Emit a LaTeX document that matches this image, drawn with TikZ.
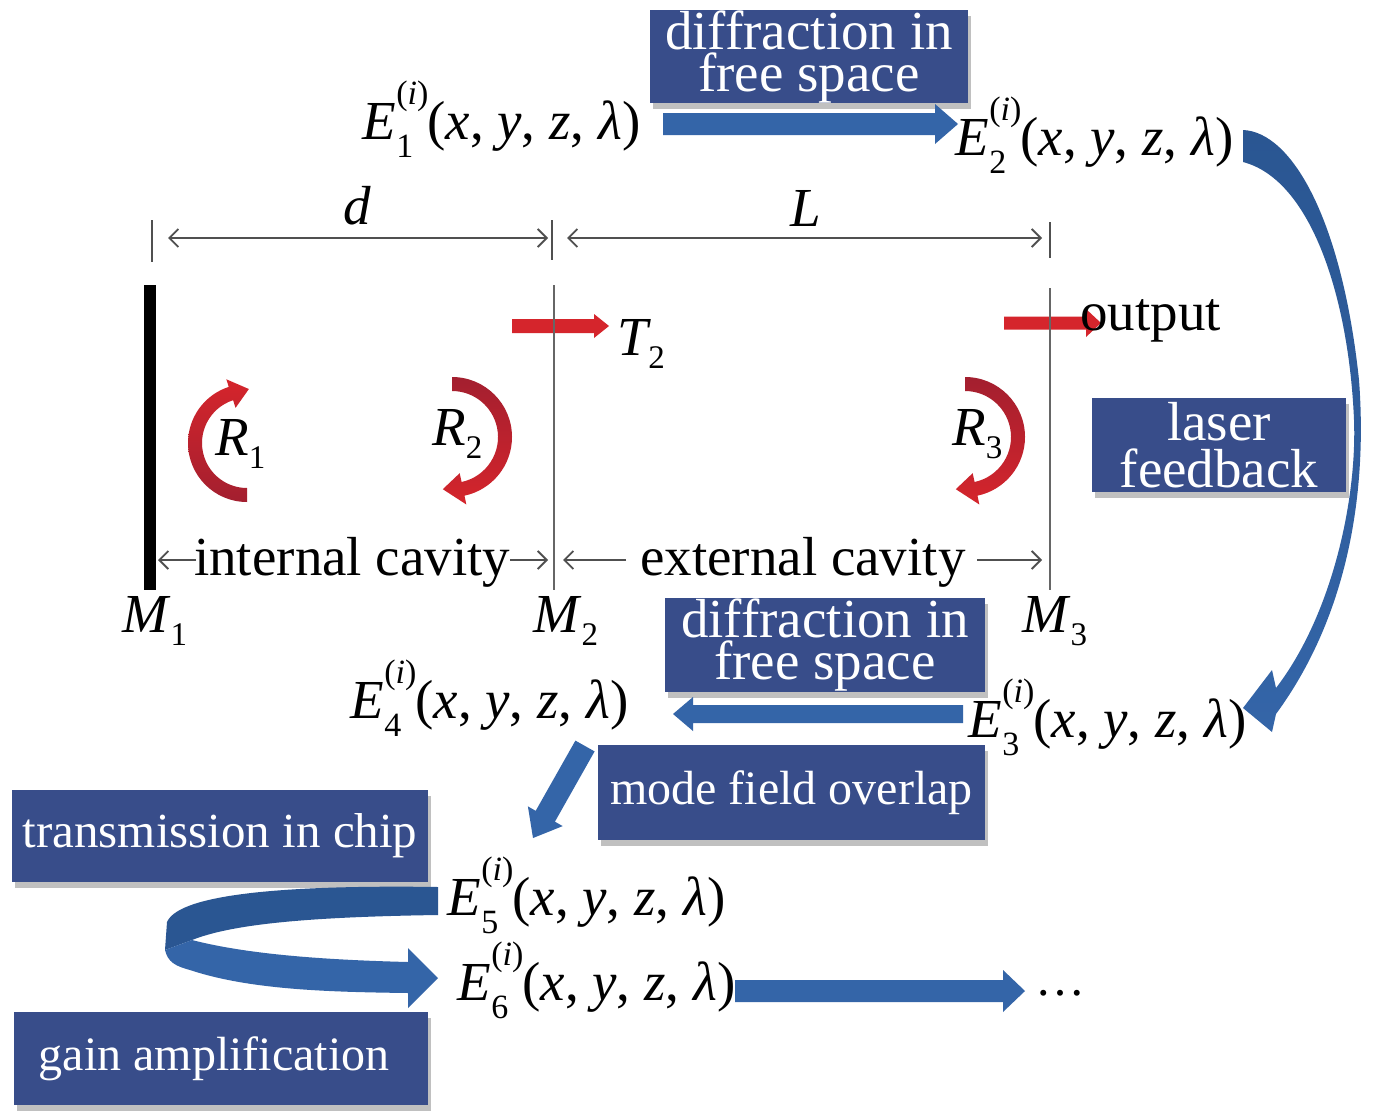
\documentclass[tikz,border=0pt]{standalone}
\usepackage{fontspec}
\setmainfont{Liberation Serif}
\usetikzlibrary{arrows.meta,shadows,calc}
\definecolor{boxblue}{HTML}{384D8A}
\definecolor{arrblue}{HTML}{3465A8}
\definecolor{arrdark}{HTML}{2A5692}
\definecolor{redA}{HTML}{D5252C}
\definecolor{redD}{HTML}{A31F2F}
\definecolor{dimgray}{HTML}{505050}
\newcommand{\Ef}[1]{\textit{E}\kern0.01em\rlap{\raisebox{-0.34em}{\fontsize{34}{34}\selectfont #1}}\raisebox{0.62em}{\fontsize{34}{34}\selectfont(\textit{i})}\kern-0.02em(\textit{x}, \textit{y}, \textit{z}, \textit{λ})}
\newcommand{\Sb}[3][0em]{\textit{#2}\kern#1\raisebox{-0.25em}{\fontsize{33}{33}\selectfont #3}}
\tikzset{
  bluebox/.style={fill=boxblue, text=white, inner sep=0pt, align=center,
    drop shadow={shadow xshift=3pt, shadow yshift=-6pt, opacity=0.35, fill=black!70}},
  eqn/.style={anchor=base west, inner sep=0pt, font=\fontsize{55}{55}\selectfont},
  lbl/.style={anchor=base west, inner sep=0pt, font=\fontsize{55}{55}\selectfont},
  dimarrow/.style={draw=dimgray, line width=1.8pt, arrows={-Straight Barb[length=9pt,width=18pt]}},
  tickline/.style={draw=dimgray, line width=2pt},
  mirrorline/.style={draw=black!60, line width=2.6pt},
}
\begin{document}
\begin{tikzpicture}[x=1pt,y=-1pt]
\useasboundingbox (0,0) rectangle (1378,1116);
\fill[white] (0,0) rectangle (1378,1116);

% ---------- red transmission arrows ----------
\fill[redA] (512,319) -- (594,319) -- (594,314) -- (609,326) -- (594,338) -- (594,333) -- (512,333) -- cycle;
\fill[redA] (1004,316.5) -- (1086,316.5) -- (1086,309) -- (1101,323) -- (1086,337) -- (1086,329.5) -- (1004,329.5) -- cycle;

% ---------- mirrors ----------
\fill[black] (144,285) rectangle (156,590);
\coordinate (m2a) at (554,285); \coordinate (m2b) at (554,590);
\coordinate (m3a) at (1050,288); \coordinate (m3b) at (1050,590);
\draw[mirrorline] (m2a) -- (m2b);
\draw[mirrorline] (m3a) -- (m3b);

% ---------- dimension ticks and arrows ----------
\coordinate (t1a) at (152,220); \coordinate (t1b) at (152,262);
\coordinate (t2a) at (552,220); \coordinate (t2b) at (552,260);
\coordinate (t3a) at (1050,222); \coordinate (t3b) at (1050,258);
\draw[tickline] (t1a) -- (t1b);
\draw[tickline] (t2a) -- (t2b);
\draw[tickline] (t3a) -- (t3b);
\coordinate (d1) at (168,238); \coordinate (d2) at (548,238);
\coordinate (l1) at (567,238); \coordinate (l2) at (1042,238);
\draw[dimarrow, arrows={Straight Barb[length=9pt,width=18pt]-Straight Barb[length=9pt,width=18pt]}] (d1) -- (d2);
\draw[dimarrow, arrows={Straight Barb[length=9pt,width=18pt]-Straight Barb[length=9pt,width=18pt]}] (l1) -- (l2);
\node[anchor=base, inner sep=0pt, font=\fontsize{55}{55}\selectfont] (dlab) at (357,224) {\textit{d}};
\node[anchor=base, inner sep=0pt, font=\fontsize{55}{55}\selectfont] (Llab) at (806,226) {\textit{L}};

% ---------- cavity labels ----------
\coordinate (ic1) at (196,560); \coordinate (ic0) at (158,560);
\coordinate (ic2) at (510,560); \coordinate (ic3) at (548,560);
\coordinate (ec1) at (626,560); \coordinate (ec0) at (563,560);
\coordinate (ec2) at (977,560); \coordinate (ec3) at (1042,560);
\draw[dimarrow] (ic1) -- (ic0);
\draw[dimarrow] (ic2) -- (ic3);
\draw[dimarrow] (ec1) -- (ec0);
\draw[dimarrow] (ec2) -- (ec3);
\node[lbl] (intc) at (194,575) {internal cavity};
\node[lbl] (extc) at (640,575) {external cavity};

% ---------- mirror labels ----------
\node[lbl] (M1) at (122,632) {\Sb{M}{1}};
\node[lbl] (M2) at (533,632) {\Sb{M}{2}};
\node[lbl] (M3) at (1022,632) {\Sb{M}{3}};
\node[lbl] (T2) at (617,355) {\Sb[-0.05em]{T}{2}};
\node[lbl] (out) at (1080,330) {output};

% ---------- reflection arrows ----------
\coordinate (C1) at (247,443);
\shade[top color=redA, bottom color=redD]
  ($(C1)+(90:59)$) arc[start angle=90, end angle=252, radius=59]
  -- ($(C1)+(252:67)$) -- ($(C1)+(272:54)$) -- ($(C1)+(252:37)$) -- ($(C1)+(252:45)$)
  arc[start angle=252, end angle=90, radius=45] -- cycle;
\coordinate (C2) at (452,437);
\shade[top color=redD, bottom color=redA]
  ($(C2)+(-90:60)$) arc[start angle=-90, end angle=78, radius=60]
  -- ($(C2)+(78:69)$) -- ($(C2)+(100:53)$) -- ($(C2)+(78:37)$) -- ($(C2)+(78:46)$)
  arc[start angle=78, end angle=-90, radius=46] -- cycle;
\coordinate (C3) at (965,437);
\shade[top color=redD, bottom color=redA]
  ($(C3)+(-90:60)$) arc[start angle=-90, end angle=78, radius=60]
  -- ($(C3)+(78:69)$) -- ($(C3)+(100:53)$) -- ($(C3)+(78:37)$) -- ($(C3)+(78:46)$)
  arc[start angle=78, end angle=-90, radius=46] -- cycle;
\node[lbl] (R1) at (215,455) {\Sb{R}{1}};
\node[lbl] (R2) at (432,445) {\Sb{R}{2}};
\node[lbl] (R3) at (952,445) {\Sb{R}{3}};

% ---------- blue boxes ----------
\node[bluebox, minimum width=318pt, minimum height=93pt, font=\fontsize{55}{42}\selectfont] (df1) at (809,56.5) {diffraction in\\free space};
\node[bluebox, minimum width=320pt, minimum height=94pt, font=\fontsize{55}{42}\selectfont] (df2) at (825,645) {diffraction in\\free space};
\node[bluebox, minimum width=254pt, minimum height=94pt, font=\fontsize{55}{47}\selectfont] (lf) at (1219,445) {laser\\feedback};
\node[bluebox, minimum width=387pt, minimum height=95pt, font=\fontsize{48}{48}\selectfont] (mfo) at (791.5,792.5) {mode field overlap};
\node[bluebox, minimum width=416pt, minimum height=92pt, font=\fontsize{49}{49}\selectfont] (tic) at (220,836) {transmission in chip};
\node[bluebox, minimum width=414pt, minimum height=93pt, font=\fontsize{48}{48}\selectfont] (ga) at (221,1058.5) {gain amplification\hspace*{14pt}};

% ---------- fields ----------
\node[eqn] (E1) at (362,139) {\Ef{1}};
\node[eqn] (E2) at (955,155) {\Ef{2}};
\node[eqn] (E4) at (350,718) {\Ef{4}};
\node[eqn] (E3) at (968,737) {\Ef{3}};
\node[eqn] (E5) at (447,915) {\Ef{5}};
\node[eqn] (E6) at (457,1000) {\Ef{6}};
\node[anchor=base west, inner sep=0pt, font=\fontsize{50}{50}\selectfont] (dots) at (1035,995) {…};

% ---------- blue flow arrows ----------
\fill[arrblue] (663,113) -- (935,113) -- (935,104) -- (958,124) -- (935,144) -- (935,135) -- (663,135) -- cycle;
\fill[arrblue] (963,705) -- (693,705) -- (693,697) -- (673,714) -- (693,731) -- (693,723) -- (963,723) -- cycle;
\fill[arrblue] (735,980) -- (1003,980) -- (1003,970) -- (1025,991) -- (1003,1012) -- (1003,1002) -- (735,1002) -- cycle;
\fill[arrblue] (575.4,740.6) -- (594.6,751.4) -- (554.9,821.7) -- (562.7,826.1) -- (533,838) -- (527.9,806.4) -- (535.7,810.8) -- cycle;

% feedback arc
\shade[top color=arrdark, bottom color=arrblue]
  (1243,130) .. controls (1292,132) and (1342,220) .. (1359,380)
  .. controls (1368,500) and (1345,620) .. (1276,714)
  -- (1272,732) -- (1243,708) -- (1272,670) -- (1276,688)
  .. controls (1332,615) and (1357,500) .. (1354,420)
  .. controls (1349,300) and (1312,180) .. (1243,162) -- cycle;

% U-turn ribbon
\fill[arrdark] (438,887) .. controls (300,885) and (180,892) .. (167,922)
  -- (165,950) -- (192,940) .. controls (230,925) and (300,917) .. (438,915) -- cycle;
\fill[arrblue] (165,950) .. controls (168,962) and (175,966) .. (190,970)
  .. controls (250,990) and (330,992) .. (408,993)
  -- (408,1008) -- (438,978) -- (408,948) -- (408,962)
  .. controls (330,960) and (250,955) .. (192,940) -- cycle;
\end{tikzpicture}
\end{document}
